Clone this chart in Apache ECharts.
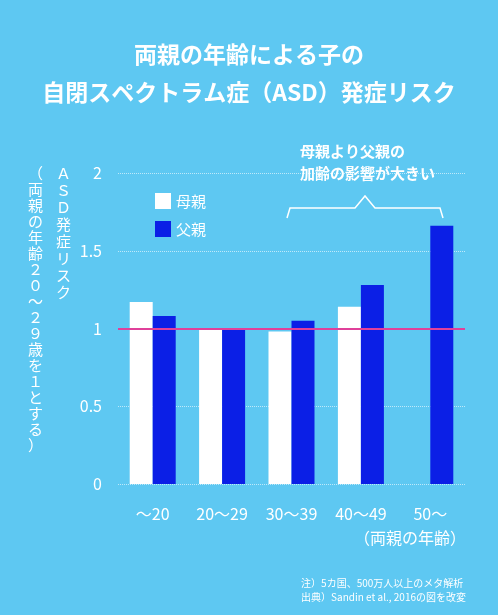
<!DOCTYPE html>
<html><head><meta charset="utf-8">
<script src="https://cdn.jsdelivr.net/npm/echarts@6/dist/echarts.min.js"></script>
<style>html,body{margin:0;background:#5ec8f2}#c{width:498px;height:615px}</style>
</head><body><div id="c"></div>
<script>
const categories = ['～20', '20～29', '30～39', '40～49', '50～']
const mother = [1.17, 1.0, 0.98, 1.14, null]
const father = [1.08, 1.0, 1.05, 1.28, 1.66]
const yTicks = [0, 0.5, 1, 1.5, 2]

const font = '"Noto Sans CJK JP", sans-serif'
const vert = s => s.split('').join('\n')

const chart = echarts.init(document.getElementById('c'))
chart.setOption({
    backgroundColor: '#5ec8f2',
    textStyle: { fontFamily: font },
    title: {
        text: '両親の年齢による子の\n自閉スペクトラム症（ASD）発症リスク',
        left: 'center', top: 30,
        textStyle: { color: '#fff', fontSize: 23, fontWeight: 'bold', lineHeight: 38, fontFamily: font }
    },
    legend: {
        orient: 'vertical', left: 150, top: 188, itemGap: 12,
        itemWidth: 16, itemHeight: 16, icon: 'rect',
        textStyle: { color: '#fff', fontSize: 15, fontFamily: font },
        data: ['母親', '父親']
    },
    grid: { left: 118, right: 33, top: 173, bottom: 131 },
    xAxis: {
        type: 'category', data: categories,
        axisLine: { show: false }, axisTick: { show: false },
        axisLabel: { color: '#fff', fontSize: 16, margin: 22, fontFamily: font }
    },
    yAxis: {
        type: 'value', min: 0, max: 2, interval: 0.5,
        axisLine: { show: false }, axisTick: { show: false },
        axisLabel: { color: '#fff', fontSize: 16, margin: 16, formatter: v => yTicks.includes(v) ? String(v) : '' },
        splitLine: { lineStyle: { color: 'rgba(255,255,255,0.6)', type: 'dotted', width: 1 } }
    },
    series: [
        { name: '母親', type: 'bar', data: mother, barWidth: 23, barGap: '0%', itemStyle: { color: '#ffffff' } },
        {
            name: '父親', type: 'bar', data: father, barWidth: 23, itemStyle: { color: '#0b1fe6' },
            markLine: {
                symbol: 'none', silent: true, label: { show: false },
                lineStyle: { color: '#e0409a', type: 'solid', width: 2 },
                data: [{ yAxis: 1 }]
            }
        }
    ],
    graphic: [
        { type: 'text', left: 56, top: 165, style: { text: vert('ＡＳＤ発症リスク'), fill: '#fff', fontSize: 15, lineHeight: 17, fontFamily: font } },
        { type: 'text', left: 28, top: 165, style: { text: vert('（両親の年齢２０～２９歳を１とする）'), fill: '#fff', fontSize: 15, lineHeight: 16, fontFamily: font } },
        { type: 'text', left: 300, top: 140, style: { text: '母親より父親の\n加齢の影響が大きい', fill: '#fff', fontSize: 15, fontWeight: 'bold', lineHeight: 22, align: 'center', fontFamily: font }, x: 65 },
        { type: 'polyline', shape: { points: [[287, 218], [290, 208], [355, 208], [365, 196], [375, 208], [440, 208], [443, 218]] }, style: { stroke: '#fff', lineWidth: 1.5, fill: 'none' } },
        { type: 'text', right: 32, top: 530, style: { text: '（両親の年齢）', fill: '#fff', fontSize: 16, fontFamily: font } },
        { type: 'text', right: 32, top: 576, style: { text: '注）5カ国、500万人以上のメタ解析\n出典）Sandin et al., 2016の図を改変', fill: '#fff', fontSize: 10, lineHeight: 14, align: 'right', fontFamily: font } }
    ]
})
</script></body></html>
